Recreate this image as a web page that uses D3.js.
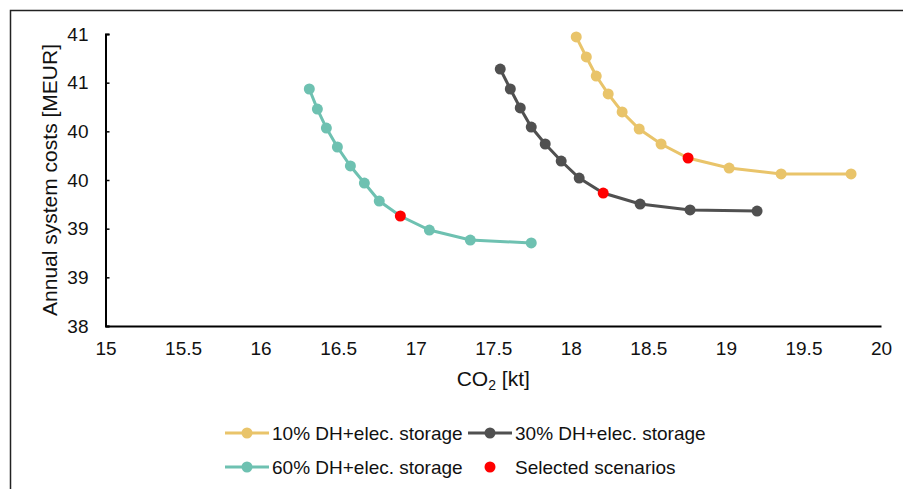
<!DOCTYPE html>
<html><head><meta charset="utf-8">
<script src="https://cdn.jsdelivr.net/npm/d3@7"></script>
<style>body{margin:0;background:#fff}svg{display:block;font-family:"Liberation Sans",Arial,sans-serif}</style>
</head><body><svg id="c" width="903" height="489"></svg>
<script>
const seriesNames = ["10% DH+elec. storage", "30% DH+elec. storage", "60% DH+elec. storage"];
const seriesColors = ["#E9C46A", "#505050", "#6EC1B1"];
const co2_10 = [18.035, 18.10, 18.164, 18.241, 18.331, 18.441, 18.582, 18.756, 19.021, 19.356, 19.807];
const cost_10 = [40.97, 40.764, 40.568, 40.384, 40.199, 40.024, 39.870, 39.726, 39.623, 39.562, 39.562];
const co2_30 = [17.545, 17.61, 17.674, 17.745, 17.835, 17.938, 18.054, 18.209, 18.447, 18.769, 19.201];
const cost_30 = [40.640, 40.435, 40.240, 40.044, 39.870, 39.695, 39.520, 39.366, 39.253, 39.192, 39.181];
const co2_60 = [16.314, 16.366, 16.424, 16.495, 16.579, 16.669, 16.765, 16.901, 17.088, 17.352, 17.745];
const cost_60 = [40.435, 40.229, 40.034, 39.839, 39.644, 39.469, 39.284, 39.130, 38.986, 38.883, 38.853];
const selectedIndex = [7, 7, 7];
const xTicks = [15, 15.5, 16, 16.5, 17, 17.5, 18, 18.5, 19, 19.5, 20];
const yTicks = [38, 38.5, 39, 39.5, 40, 40.5, 41];

const svg = d3.select("#c");
const W = 903, H = 489;
const m = {l:105.5, r:881, t:34, b:326};
const x = d3.scaleLinear().domain([15, 20]).range([m.l, m.r]);
const y = d3.scaleLinear().domain([38, 41]).range([m.b, m.t]);

// outer border
svg.append("rect").attr("x",10.5).attr("y",10.5).attr("width",W).attr("height",H)
  .attr("fill","none").attr("stroke","#222").attr("stroke-width",1.5);

// y axis
const yAx = svg.append("g").attr("transform",`translate(${m.l},0)`)
  .call(d3.axisLeft(y).tickValues(yTicks).tickSize(-4).tickPadding(17).tickFormat(d => Math.round(d)));
yAx.select(".domain").attr("stroke","#000").attr("stroke-width",2);
yAx.selectAll(".tick line").attr("stroke","#000").attr("stroke-width",1.5);
yAx.selectAll(".tick text").attr("font-size",19).attr("fill","#111").attr("font-family","Liberation Sans, Arial");

// x axis
const xAx = svg.append("g").attr("transform",`translate(0,${m.b})`)
  .call(d3.axisBottom(x).tickValues(xTicks).tickSize(0).tickPadding(16).tickFormat(d => d));
xAx.select(".domain").attr("stroke","#000").attr("stroke-width",2);
xAx.selectAll(".tick text").attr("font-size",19).attr("fill","#111").attr("font-family","Liberation Sans, Arial");

// axis titles
const xt = svg.append("text").attr("x",(m.l+m.r)/2).attr("y",386).attr("text-anchor","middle")
  .attr("font-size",21).attr("fill","#111");
xt.append("tspan").text("CO");
xt.append("tspan").attr("font-size",14).attr("dy",4).text("2");
xt.append("tspan").attr("dy",-4).text(" [kt]");
svg.append("text").attr("transform",`translate(57,${(m.t+m.b)/2}) rotate(-90)`).attr("text-anchor","middle")
  .attr("font-size",21).attr("fill","#111").text("Annual system costs [MEUR]");

const data = [
  co2_10.map((v,i)=>[v,cost_10[i]]),
  co2_30.map((v,i)=>[v,cost_30[i]]),
  co2_60.map((v,i)=>[v,cost_60[i]])
];
const line = d3.line().x(d=>x(d[0])).y(d=>y(d[1]));
data.forEach((s,k)=>{
  svg.append("path").attr("d",line(s)).attr("fill","none").attr("stroke",seriesColors[k]).attr("stroke-width",3);
  svg.selectAll(null).data(s).enter().append("circle")
    .attr("cx",d=>x(d[0])).attr("cy",d=>y(d[1])).attr("r",5.5)
    .attr("fill",(d,i)=> i===selectedIndex[k] ? "#FF0000" : seriesColors[k]);
});

// legend
const leg = [
  {name:seriesNames[0], color:seriesColors[0], lx:225, ly:433, line:true},
  {name:seriesNames[1], color:seriesColors[1], lx:468, ly:433, line:true},
  {name:seriesNames[2], color:seriesColors[2], lx:225, ly:467, line:true},
  {name:"Selected scenarios", color:"#FF0000", lx:468, ly:467, line:false}
];
leg.forEach(l=>{
  if(l.line) svg.append("line").attr("x1",l.lx).attr("x2",l.lx+44).attr("y1",l.ly).attr("y2",l.ly)
    .attr("stroke",l.color).attr("stroke-width",3);
  svg.append("circle").attr("cx",l.lx+22).attr("cy",l.ly).attr("r",5.5).attr("fill",l.color);
  svg.append("text").attr("x",l.lx+47).attr("y",l.ly+7).attr("font-size",19).attr("fill","#111").text(l.name);
});
</script></body></html>
